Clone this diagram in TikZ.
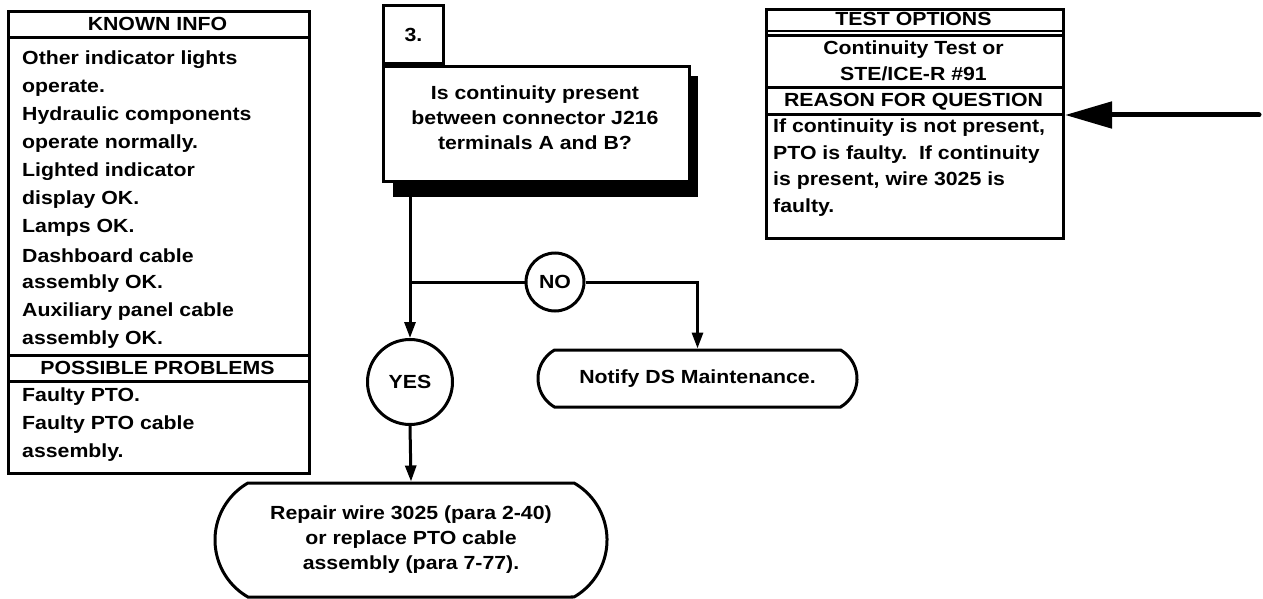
\documentclass[tikz,border=0pt]{standalone}
\usepackage{fontspec}
\setmainfont{Liberation Sans}[FakeStretch=1.12]
\usetikzlibrary{arrows.meta,shapes.misc,calc}

\begin{document}
\begin{tikzpicture}[x=1pt,y=-1pt]
\useasboundingbox (0,0) rectangle (1263,599);
\tikzset{
  frame/.style={draw, line width=3pt},
  txt/.style={font=\bfseries\fontsize{19}{25}\selectfont, inner sep=0pt},
  ltxt/.style={txt, anchor=west},
  rule/.style={line width=3pt},
  flow/.style={line width=3pt, -{Triangle[length=16pt,width=11pt]}},
  terminal/.style={frame, rounded rectangle, rounded rectangle arc length=120, txt, align=center},
  answer/.style={frame, circle, txt, inner sep=0pt},
}

% ---- KNOWN INFO / POSSIBLE PROBLEMS panel ----
\node[frame, minimum width=301pt, minimum height=462pt, anchor=north west, inner sep=0pt] (known) at (7,10) {};
\draw[rule] (known.west |- 0,38) -- (known.east |- 0,38);
\draw[rule] (known.west |- 0,355) -- (known.east |- 0,355);
\draw[rule] (known.west |- 0,381) -- (known.east |- 0,381);
\node[txt] (kihead) at (157.5,24) {KNOWN INFO};
\foreach \t [count=\i] in {Other indicator lights, operate., Hydraulic components,
  operate normally., Lighted indicator, display OK., Lamps OK., Dashboard cable,
  assembly OK., Auxiliary panel cable, assembly OK.}
  \node[ltxt] (ki\i) at (22,{60+28*(\i-1)}) {\t};
\node[txt] (pphead) at (157.5,368) {POSSIBLE PROBLEMS};
\foreach \t [count=\i] in {Faulty PTO., Faulty PTO cable, assembly.}
  \node[ltxt] (pp\i) at (22,{397+28*(\i-1)}) {\t};

% ---- question box with step number and drop shadow ----
\fill (393,76) rectangle (698,197);
\node[frame, fill=white, minimum width=306pt, minimum height=115pt, anchor=north west, inner sep=0pt] (q) at (382,65) {};
\node[frame, fill=white, minimum width=60pt, minimum height=58pt, anchor=south west, inner sep=0pt] (num) at (q.north west) {};
\node[txt] (numtxt) at (num.center) {3.};
\node[txt, align=center] (qtext) at (535,118) {Is continuity present\\between connector J216\\terminals A and B?};

% ---- TEST OPTIONS / REASON FOR QUESTION panel ----
\node[frame, minimum width=297pt, minimum height=229pt, anchor=north west, inner sep=0pt] (test) at (765,8) {};
\draw[line width=2.5pt] (test.west |- 0,31) -- (test.east |- 0,31);
\draw[line width=2.5pt] (test.west |- 0,35.5) -- (test.east |- 0,35.5);
\draw[rule] (test.west |- 0,88) -- (test.east |- 0,88);
\draw[rule] (test.west |- 0,115) -- (test.east |- 0,115);
\node[txt] (tohead) at (913.5,19) {TEST OPTIONS};
\node[txt] (to1) at (913.5,50) {Continuity Test or};
\node[txt] (to2) at (913.5,74) {STE/ICE-R \#91};
\node[txt] (rqhead) at (913.5,102) {REASON FOR QUESTION};
\foreach \t [count=\i] in {{If continuity is not present,}, {PTO is faulty.\ \ If continuity},
  {is present, wire 3025 is}, faulty.}
  \node[ltxt] (rq\i) at (773,{128+26.5*(\i-1)}) {\t};

% pointer arrow into the reason row
\coordinate (ptail) at (1259,115);
\draw[line width=5pt, line cap=round, {Triangle[length=47pt,width=26pt]}-] (test.east |- 0,115) -- (ptail);

% ---- decision branches ----
\coordinate (qout) at (410,197);
\coordinate (fork) at (410,282);
\node[answer, minimum size=58pt] (no) at (555,282) {NO};
\node[answer, minimum size=85pt] (yes) at (410,382) {YES};
\node[terminal, minimum width=319pt, minimum height=57pt] (notify) at (697.5,378.5) {Notify DS Maintenance.};
\node[terminal, minimum width=392pt, minimum height=114pt] (repair) at (411,540)
  {Repair wire 3025 (para 2-40)\\or replace PTO cable\\assembly (para 7-77).};

\draw[flow] (qout) -- (yes.north);
\draw[rule] (fork) -- (no.west);
\draw[flow] (no.east) -| (notify.north);
\draw[flow] (yes.south) -- (repair.north);
\end{tikzpicture}
\end{document}
